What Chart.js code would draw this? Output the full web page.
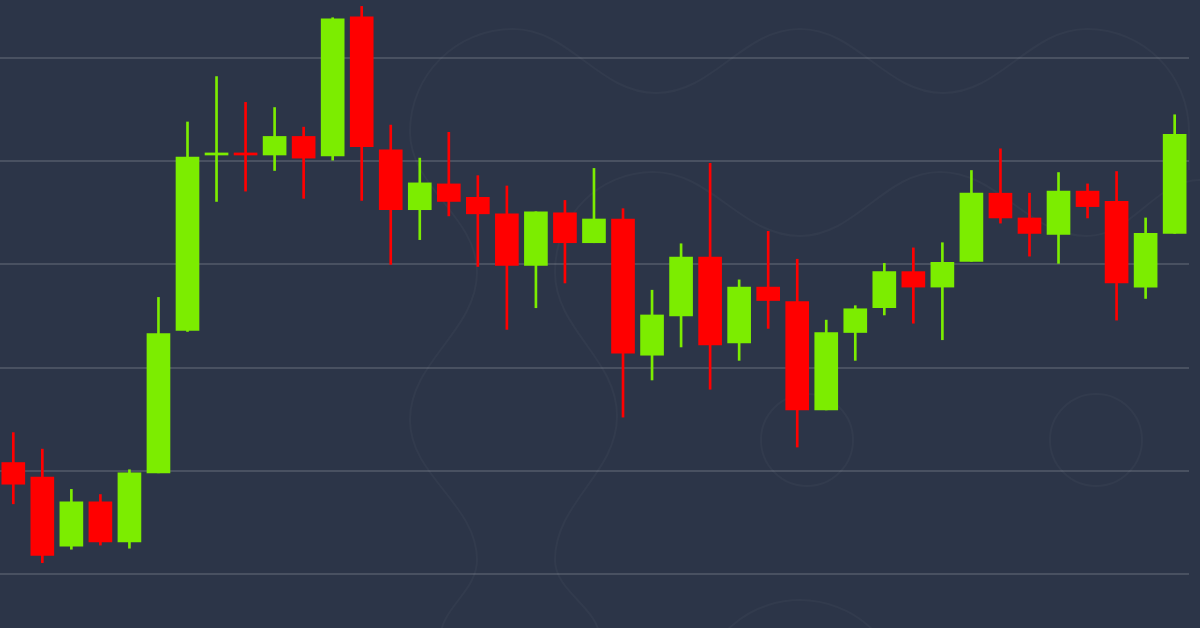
<!DOCTYPE html>
<html>
<head>
<meta charset="utf-8">
<script src="https://cdn.jsdelivr.net/npm/chart.js@4/dist/chart.umd.min.js"></script>
<style>
html,body{margin:0;padding:0;background:#2c3548;}
#wrap{width:1200px;height:628px;position:relative;}
</style>
</head>
<body>
<div id="wrap"><canvas id="myChart"></canvas></div>
<script>
// candles, left to right
var opens  = [6408,6394,6327,6370,6331,6398,6536,6706,6708,6706,6724,6705,6840,6711,6653,6678,6665,6649,6599,6650,6621,6644,6512,6550,6607,6524,6578,6564,6459,6534,6558,6593,6578,6603,6669,6645,6629,6671,6661,6578,6630];
var highs  = [6437,6421,6382,6377,6401,6568,6738,6782,6757,6752,6733,6839,6850,6735,6703,6728,6686,6676,6651,6662,6693,6654,6575,6620,6698,6585,6632,6605,6546,6560,6601,6616,6621,6691,6712,6669,6689,6678,6690,6645,6745];
var lows   = [6368,6311,6324,6328,6325,6398,6535,6661,6671,6691,6664,6701,6662,6600,6624,6647,6598,6537,6558,6582,6621,6452,6488,6520,6479,6507,6538,6423,6459,6507,6551,6543,6527,6603,6640,6608,6601,6645,6546,6567,6630];
var closes = [6387,6318,6370,6331,6398,6533,6704,6708,6706,6724,6703,6838,6714,6653,6679,6661,6649,6599,6651,6621,6644,6514,6551,6607,6522,6578,6565,6459,6534,6557,6593,6578,6602,6669,6645,6630,6671,6656,6582,6630,6726];
var gridLines = [6300,6400,6500,6600,6700,6800];

var upColor = "#7ced00", downColor = "#ff0000";

var bodies = [], wicks = [], colors = [];
for (var i = 0; i < opens.length; i++) {
    bodies.push({x: i, y: [opens[i], closes[i]]});
    wicks.push({x: i, y: [lows[i], highs[i]]});
    colors.push(closes[i] >= opens[i] ? upColor : downColor);
}

// faint background pattern
function sCurve(ctx, pts, vertical) {
    for (var k = 1; k < pts.length; k++) {
        var a = pts[k-1], b = pts[k];
        if (vertical) {
            var dy = b[1] - a[1];
            ctx.bezierCurveTo(a[0], a[1] + dy*0.4, b[0], b[1] - dy*0.4, b[0], b[1]);
        } else {
            var dx = b[0] - a[0];
            ctx.bezierCurveTo(a[0] + dx*0.4, a[1], b[0] - dx*0.4, b[1], b[0], b[1]);
        }
    }
}
var bgPattern = {
    id: "bgPattern",
    beforeDraw: function(chart) {
        var ctx = chart.ctx;
        ctx.save();
        ctx.strokeStyle = "rgba(255,255,255,0.03)";
        ctx.lineWidth = 2;
        // left vertical wave + top wave
        ctx.beginPath();
        ctx.moveTo(440, 640);
        sCurve(ctx, [[440,640],[477,560],[410,420],[477,272],[410,132]], true);
        ctx.bezierCurveTo(410, 75, 456, 29, 513, 29);
        sCurve(ctx, [[513,29],[656,93],[800,29],[943,93],[1087,29]], false);
        ctx.bezierCurveTo(1144, 29, 1189, 75, 1189, 132);
        ctx.lineTo(1189, 170);
        ctx.stroke();
        // middle vertical wave + second wave
        ctx.beginPath();
        ctx.moveTo(600, 640);
        sCurve(ctx, [[600,640],[555,560],[617,416],[555,272]], true);
        ctx.bezierCurveTo(555, 215, 600, 172, 653, 172);
        sCurve(ctx, [[653,172],[800,236],[940,172],[1087,236],[1200,180]], false);
        ctx.stroke();
        // small rings and bottom arc
        ctx.beginPath();
        ctx.arc(807, 440, 46, 0, Math.PI*2);
        ctx.stroke();
        ctx.beginPath();
        ctx.arc(1096, 440, 46, 0, Math.PI*2);
        ctx.stroke();
        ctx.beginPath();
        ctx.arc(800, 703, 103, Math.PI*1.15, Math.PI*1.85);
        ctx.stroke();
        ctx.restore();
    }
};

var ctx = document.getElementById("myChart");
var chart = new Chart(ctx, {
    type: "bar",
    data: {
        datasets: [{
            data: bodies,
            backgroundColor: colors,
            borderWidth: 0,
            barThickness: 23,
            grouped: false,
            order: 0
        }, {
            data: wicks,
            backgroundColor: colors,
            borderWidth: 0,
            barThickness: 2,
            grouped: false,
            order: 1
        }]
    },
    options: {
        responsive: true,
        maintainAspectRatio: false,
        animation: false,
        layout: {padding: {left: 0, right: 11, top: 0, bottom: 0}},
        plugins: {legend: {display: false}, tooltip: {enabled: false}},
        scales: {
            x: {
                type: "linear",
                display: false,
                offset: false,
                grid: {offset: false},
                min: -0.458,
                max: 40.494
            },
            y: {
                min: 6247.67,
                max: 6856.2,
                afterBuildTicks: function(scale) {
                    scale.ticks = gridLines.map(function(v){ return {value: v}; });
                },
                ticks: {display: false},
                border: {display: false},
                grid: {color: "rgba(255,255,255,0.14)", lineWidth: 2, drawTicks: false}
            }
        }
    },
    plugins: [bgPattern]
});
</script>
</body>
</html>
